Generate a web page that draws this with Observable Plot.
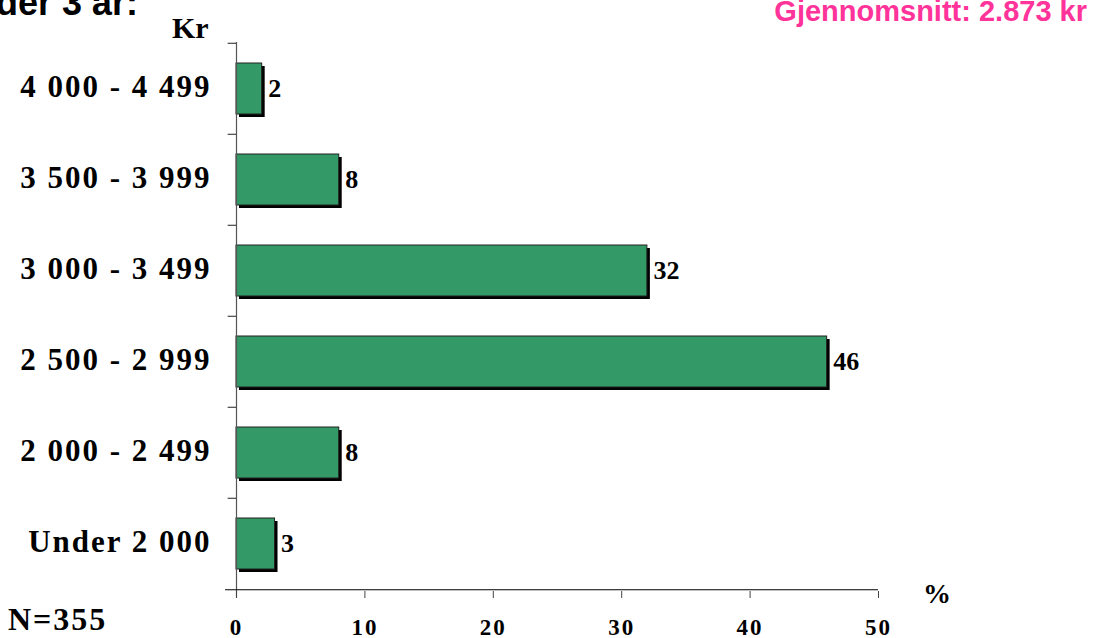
<!DOCTYPE html>
<html>
<head>
<meta charset="utf-8">
<script src="https://cdn.jsdelivr.net/npm/d3@7"></script>
<script src="https://cdn.jsdelivr.net/npm/@observablehq/plot@0.6"></script>
<style>
  html, body { margin: 0; padding: 0; background: #fff; }
  #wrap { position: relative; width: 1093px; height: 638px; overflow: hidden; }
  .ann { position: absolute; white-space: nowrap; line-height: 1; }
  .sans { font-family: "Liberation Sans", Arial, sans-serif; font-weight: bold; }
  .serif { font-family: "Liberation Serif", "Times New Roman", serif; font-weight: bold; }
  g[aria-label="y-axis tick label"] text { letter-spacing: 2px; }
  g[aria-label="x-axis tick label"] text { letter-spacing: 2px; }
</style>
</head>
<body>
<div id="wrap">
  <div class="ann sans" style="right:955px; top:-15px; font-size:36px; color:#000;">Under 3 år:</div>
  <div class="ann sans" style="right:6px; top:-3px; font-size:29px; color:#FF3399;">Gjennomsnitt: 2.873 kr</div>
  <div class="ann serif" style="left:172px; top:13px; font-size:30px;">Kr</div>
  <div class="ann serif" style="left:923px; top:580px; font-size:28px;">%</div>
  <div class="ann serif" style="left:8px; top:603px; font-size:32px; letter-spacing:2px;">N=355</div>
  <div id="chart"></div>
</div>
<script>
const categories = ["4 000 - 4 499", "3 500 - 3 999", "3 000 - 3 499", "2 500 - 2 999", "2 000 - 2 499", "Under 2 000"];
const values = [2, 8, 32, 46, 8, 3];
const xTicks = [0, 10, 20, 30, 40, 50];

const data = categories.map((c, i) => ({cat: c, value: values[i]}));
const half = (638 - 42 - 47) / categories.length / 2;

const chart = Plot.plot({
  width: 1093,
  height: 638,
  marginLeft: 236,
  marginRight: 215,
  marginTop: 42,
  marginBottom: 47,
  style: {fontFamily: "'Liberation Serif', 'Times New Roman', serif", fontWeight: "bold", color: "#000", background: "transparent"},
  x: {domain: [0, 50], label: null},
  y: {domain: categories, paddingInner: 0.435, paddingOuter: 0.2175, label: null},
  marks: [
    Plot.barX(data, {x: "value", y: "cat", fill: "#000", dx: 3, dy: 3}),
    Plot.barX(data, {x: "value", y: "cat", fill: "#339966", stroke: "#222", strokeWidth: 1}),
    Plot.ruleX([0], {stroke: "#555", strokeWidth: 1.2, insetBottom: -7}),
    Plot.ruleY(categories, {x1: -0.65, x2: 0, dy: -half, stroke: "#222"}),
    Plot.ruleY([categories[categories.length - 1]], {x1: -0.85, x2: 50, dy: half, stroke: "#000", strokeWidth: 1.2}),
    Plot.tickX(xTicks.slice(1), {x: d => d, y: categories[categories.length - 1], dy: half + 3.5, stroke: "#000", strokeWidth: 1.2, insetTop: 45.75 - 3.5, insetBottom: 45.75 - 3.5}),
    Plot.text(data, {x: "value", y: "cat", text: d => String(d.value), textAnchor: "start", dx: 6, fontSize: 26, fontWeight: "bold"}),
    Plot.axisY({tickSize: 0, tickPadding: 25, fontSize: 31, fontWeight: "bold", dy: -2}),
    Plot.axisX({ticks: xTicks, tickSize: 7, tickPadding: 20, fontSize: 23, fontWeight: "bold", tickFormat: d => String(d), stroke: "#444"})
  ]
});
document.getElementById("chart").appendChild(chart);
</script>
</body>
</html>
